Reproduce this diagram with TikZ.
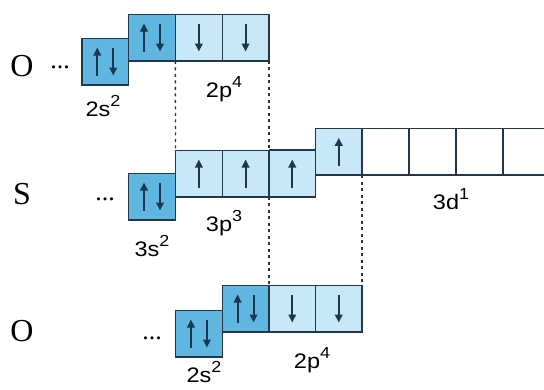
\documentclass[tikz,border=0pt]{standalone}
\usepackage{fontspec}
\setmainfont{Liberation Serif}
\setsansfont{Liberation Sans}
\usetikzlibrary{arrows.meta}
\definecolor{dk}{RGB}{95,182,225}
\definecolor{lt}{RGB}{200,232,247}
\definecolor{edgec}{RGB}{35,55,70}
\definecolor{arrc}{RGB}{30,55,80}
\newcommand\lb[2]{\scalebox{1.12}[1]{#1\raisebox{0.45em}{\fontsize{16}{16}\selectfont #2}}}
\newcommand\upa[2]{\draw[ar] ([xshift=#2,yshift=-14pt]#1.center) -- ([xshift=#2,yshift=14pt]#1.center);}
\newcommand\dna[2]{\draw[ar] ([xshift=#2,yshift=14pt]#1.center) -- ([xshift=#2,yshift=-14pt]#1.center);}
\begin{document}
\begin{tikzpicture}[x=1pt,y=-1pt,
  orb/.style={draw=edgec, line width=1.3pt, minimum width=46.7pt, minimum height=46.7pt, inner sep=0pt, outer sep=0pt},
  dkorb/.style={orb, fill=dk},
  ltorb/.style={orb, fill=lt},
  wtorb/.style={orb, fill=white},
  ar/.style={draw=arrc, line width=1.9pt, -{Triangle[length=8pt,width=7.5pt]}},
  dsh/.style={draw=edgec, line width=1.4pt, dash pattern=on 3pt off 3.5pt},
  elem/.style={font=\fontsize{32}{32}\selectfont, inner sep=0pt},
  dts/.style={font=\fontsize{26}{26}\selectfont, inner sep=0pt},
  lab/.style={font=\sffamily\fontsize{21}{21}\selectfont, inner sep=0pt}]
\useasboundingbox (0,0) rectangle (544,389);
\clip (0,0) rectangle (544,389);
\fill[white] (0,0) rectangle (544,389);

% top O
\node[dkorb] (o1s) at (105.25,61.5) {};
\node[dkorb] (o1p1) at (152,37.5) {};
\node[ltorb] (o1p2) at (198.9,37.5) {};
\node[ltorb] (o1p3) at (245.6,37.5) {};
\upa{o1s}{-8pt}\dna{o1s}{8pt}
\upa{o1p1}{-8pt}\dna{o1p1}{8pt}
\dna{o1p2}{0pt}
\dna{o1p3}{0pt}

% S
\node[dkorb] (s3s) at (152,196.5) {};
\node[ltorb] (s3p1) at (198.9,173.5) {};
\node[ltorb] (s3p2) at (245.6,173.5) {};
\node[ltorb] (s3p3) at (292.25,173.5) {};
\node[ltorb] (s3d1) at (338.75,151.75) {};
\node[wtorb] (s3d2) at (385.5,151.75) {};
\node[wtorb] (s3d3) at (432.5,151.75) {};
\node[wtorb] (s3d4) at (479.5,151.75) {};
\node[wtorb] (s3d5) at (526.5,151.75) {};
\draw[edgec, line width=2.6pt] (s3d5.north west) -- (s3d5.south west);
\draw[edgec, line width=2.4pt] (s3p3.north west) -- (s3p3.north east);
\upa{s3s}{-8pt}\dna{s3s}{8pt}
\upa{s3p1}{0pt}
\upa{s3p2}{0pt}
\upa{s3p3}{0pt}
\upa{s3d1}{0pt}

% bottom O
\node[dkorb] (o2s) at (198.9,333.5) {};
\node[dkorb] (o2p1) at (245.6,308.5) {};
\node[ltorb] (o2p2) at (292.25,308.5) {};
\node[ltorb] (o2p3) at (338.75,308.5) {};
\upa{o2s}{-8pt}\dna{o2s}{8pt}
\upa{o2p1}{-8pt}\dna{o2p1}{8pt}
\dna{o2p2}{0pt}
\dna{o2p3}{0pt}

% dashed guides
\draw[dsh] (o1p1.south east) -- (s3p1.north west);
\draw[dsh] (o1p3.south east) -- (s3p2.north east);
\draw[dsh] (s3p2.south east) -- (o2p1.north east);
\draw[dsh] (s3d1.south east) -- (o2p3.north east);

% element symbols and dots
\node[elem] (eO1) at (22,66) {O};
\node[dts] (d1) at (60,67) {...};
\node[elem] (eS) at (22,194) {S};
\node[dts] (d2) at (105,199) {...};
\node[elem] (eO2) at (22,331) {O};
\node[dts] (d3) at (152,338) {...};

% labels
\node[lab] (l1) at (103,106) {\lb{2s}{2}};
\node[lab] (l2) at (224,89) {\lb{2p}{4}};
\node[lab] (l3) at (152,246) {\lb{3s}{2}};
\node[lab] (l4) at (224,223) {\lb{3p}{3}};
\node[lab] (l5) at (451,199) {\lb{3d}{1}};
\node[lab] (l6) at (204,372) {\lb{2s}{2}};
\node[lab] (l7) at (312,360) {\lb{2p}{4}};
\end{tikzpicture}
\end{document}
